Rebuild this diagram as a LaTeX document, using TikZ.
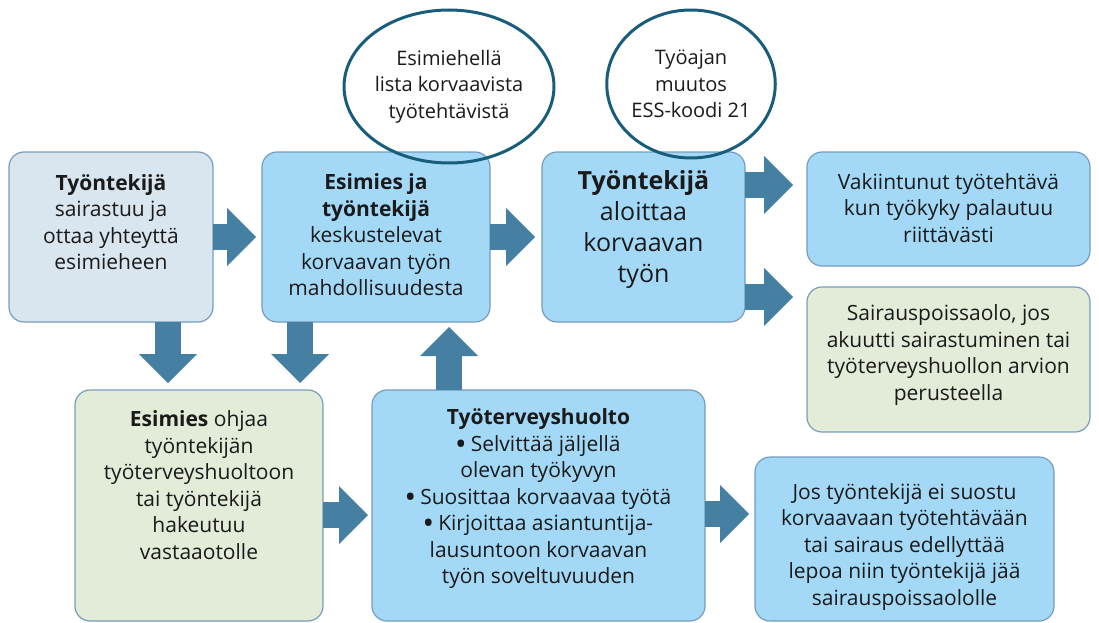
\documentclass[tikz,border=0pt]{standalone}
\usepackage{fontspec}
\setmainfont{Open Sans}
\usetikzlibrary{arrows.meta,shapes.geometric}
\definecolor{arrowblue}{RGB}{69,127,161}
\definecolor{boxline}{RGB}{118,157,189}
\definecolor{fillgray}{RGB}{218,230,239}
\definecolor{fillblue}{RGB}{163,217,246}
\definecolor{fillgreen}{RGB}{226,236,216}
\definecolor{ellline}{RGB}{24,94,124}
\definecolor{textcol}{RGB}{26,26,26}
% list bullet, a little heavier than the text face
\newcommand\listdot{\raisebox{-1pt}{\fontsize{24}{24}\selectfont\textbf{•}}}
\begin{document}
\begin{tikzpicture}[x=1pt,y=-1pt,
  box/.style={draw=boxline, line width=1.2pt, rounded corners=15pt, inner sep=0pt, outer sep=0pt},
  txt/.style={align=center, text=textcol, inner sep=0pt, font=\fontsize{21}{26.5}\selectfont},
  bigtxt/.style={align=center, text=textcol, inner sep=0pt, font=\fontsize{25}{31}\selectfont},
  bubble/.style={ellipse, draw=ellline, line width=3pt, inner sep=0pt, align=center, text=textcol, font=\fontsize{20}{26.5}\selectfont},
  barrow/.style={draw=arrowblue, line width=26pt, -{Triangle[width=58pt,length=29pt,line width=0pt]}}]
\useasboundingbox (0,0) rectangle (1099,623);

% process boxes
\node[box, fill=fillgray,  minimum width=204pt, minimum height=170pt] (A) at (111,237) {};
\node[box, fill=fillblue,  minimum width=228pt, minimum height=170pt] (B) at (376,237) {};
\node[box, fill=fillblue,  minimum width=203pt, minimum height=170pt] (C) at (643.5,237) {};
\node[box, fill=fillblue,  minimum width=283pt, minimum height=114pt] (D) at (948.5,209) {};
\node[box, fill=fillgreen, minimum width=283pt, minimum height=145pt] (E) at (948.5,359.5) {};
\node[box, fill=fillgreen, minimum width=248pt, minimum height=231pt] (F) at (199,505.5) {};
\node[box, fill=fillblue,  minimum width=333pt, minimum height=231pt] (G) at (538.5,505.5) {};
\node[box, fill=fillblue,  minimum width=299pt, minimum height=164pt] (H) at (904.5,539) {};

% box texts
\node[txt] (tA) at (111,222) {\textbf{Työntekijä}\\sairastuu ja\\ottaa yhteyttä\\esimieheen};
\node[txt] (tB) at (376,235) {\textbf{Esimies ja}\\\textbf{työntekijä}\\keskustelevat\\korvaavan työn\\mahdollisuudesta};
\node[bigtxt] (tC) at (643.5,230) {\textbf{Työntekijä}\\aloittaa\\korvaavan\\työn};
\node[txt] (tD) at (948.5,208) {Vakiintunut työtehtävä\\kun työkyky palautuu\\riittävästi};
\node[txt] (tE) at (948.5,355) {Sairauspoissaolo, jos\\akuutti sairastuminen tai\\työterveyshuollon arvion\\perusteella};
\node[txt] (tF) at (199,485) {\textbf{Esimies} ohjaa\\työntekijän\\työterveyshuoltoon\\tai työntekijä\\hakeutuu\\vastaaotolle};
\node[txt] (tG) at (538.5,499) {\textbf{Työterveyshuolto}\\\listdot{} Selvittää jäljellä\\olevan työkyvyn\\\listdot{} Suosittaa korvaavaa työtä\\\listdot{} Kirjoittaa asiantuntija-\\lausuntoon korvaavan\\työn soveltuvuuden};
\node[txt] (tH) at (904.5,547) {Jos työntekijä ei suostu\\korvaavaan työtehtävään\\tai sairaus edellyttää\\lepoa niin työntekijä jää\\sairauspoissaololle};

% block arrows between boxes
\draw[barrow, shorten >=6pt] (A.east) -- (B.west);
\draw[barrow, shorten >=7pt] (B.east) -- (C.west);
\draw[barrow, shorten >=14pt] (C.east |- 0,185) -- (D.west |- 0,185);
\draw[barrow, shorten >=14pt] (C.east |- 0,297) -- (E.west |- 0,297);
\draw[barrow, shorten >=7pt] (A.south -| 168,0) -- (F.north -| 168,0);
\draw[barrow, shorten >=7pt] (B.south -| 300,0) -- (F.north -| 300,0);
\draw[barrow, shorten >=5pt] (G.north -| 449,0) -- (B.south -| 449,0);
\draw[barrow, shorten >=4pt] (F.east |- 0,515) -- (G.west |- 0,515);
\draw[barrow, shorten >=6pt] (G.east |- 0,514) -- (H.west |- 0,514);

% note bubbles
\node[bubble, minimum width=208pt, minimum height=153pt] (N1) at (449,86.5) {Esimiehellä\\lista korvaavista\\työtehtävistä};
\node[bubble, minimum width=157pt, minimum height=148pt] (N2) at (691,84) {Työajan\\muutos\\ESS-koodi 21};
\end{tikzpicture}
\end{document}
